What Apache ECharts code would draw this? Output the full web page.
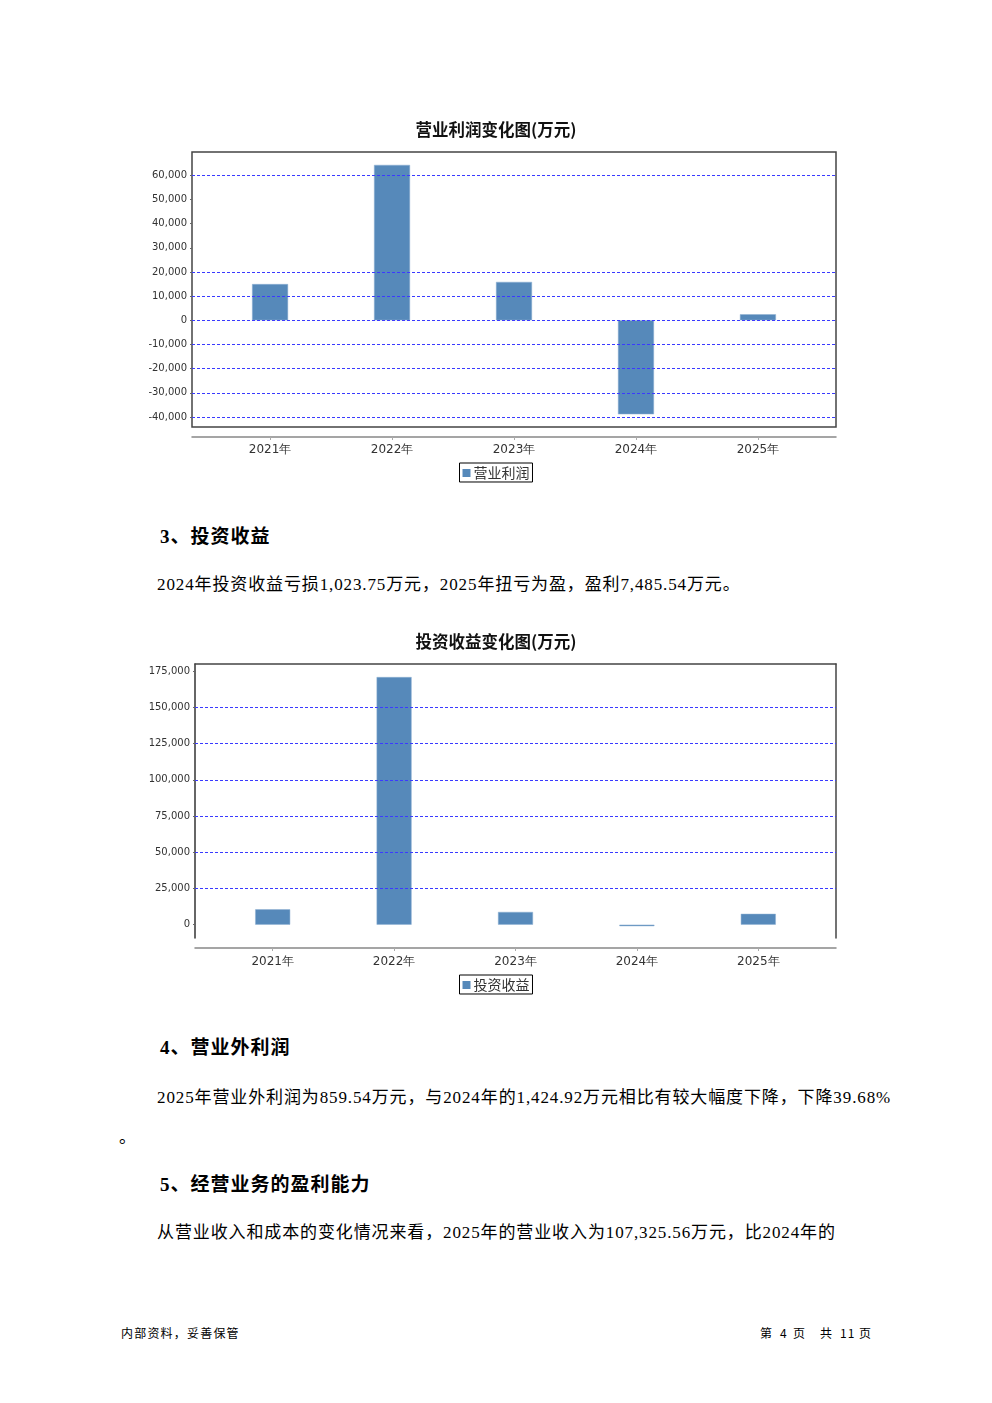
<!DOCTYPE html>
<html>
<head>
<meta charset="utf-8">
<script src="https://cdn.jsdelivr.net/npm/echarts@6/dist/echarts.min.js"></script>
<style>
  html, body { margin: 0; padding: 0; background: #fff; }
  body { width: 992px; height: 1403px; position: relative; overflow: hidden; }
  .chart { position: absolute; left: 0; width: 992px; }
  .t { position: absolute; white-space: nowrap; color: #000;
       font-family: "Liberation Serif", "Noto Sans CJK SC", serif; }
  .p { font-size: 17px; line-height: 20px; letter-spacing: 0.88px; }
  .h { font-size: 19px; line-height: 22px; font-weight: bold; letter-spacing: 1px; }
  .f { font-size: 12px; line-height: 14px; font-family: "Noto Sans CJK SC", sans-serif; letter-spacing: 1.2px; }
</style>
</head>
<body>
<div id="c1" class="chart" style="top:100px;height:400px;"></div>
<div id="c2" class="chart" style="top:620px;height:400px;"></div>

<div class="t h" style="left:160px;top:526px;">3、投资收益</div>
<div class="t p" style="left:157px;top:575px;">2024年投资收益亏损1,023.75万元，2025年扭亏为盈，盈利7,485.54万元。</div>

<div class="t h" style="left:160px;top:1037px;">4、营业外利润</div>
<div class="t p" style="left:157px;top:1088px;">2025年营业外利润为859.54万元，与2024年的1,424.92万元相比有较大幅度下降，下降39.68%</div>
<div class="t p" style="left:119px;top:1128px;">。</div>

<div class="t h" style="left:160px;top:1174px;">5、经营业务的盈利能力</div>
<div class="t p" style="left:157px;top:1223px;">从营业收入和成本的变化情况来看，2025年的营业收入为107,325.56万元，比2024年的</div>

<div class="t f" style="left:121px;top:1326px;">内部资料，妥善保管</div>
<div class="t f" style="left:760px;top:1326px;">第</div>
<div class="t f" style="left:780px;top:1326px;">4</div>
<div class="t f" style="left:793px;top:1326px;">页</div>
<div class="t f" style="left:820px;top:1326px;">共</div>
<div class="t f" style="left:840px;top:1326px;">11</div>
<div class="t f" style="left:859px;top:1326px;">页</div>

<script>
// ---- data ----
const categories = ['2021年', '2022年', '2023年', '2024年', '2025年'];

const profitTitle = '营业利润变化图(万元)';
const profitName = '营业利润';
const profitValues = [15000, 64300, 15900, -38900, 2500];
const profitTicks = [-40000, -30000, -20000, -10000, 0, 10000, 20000, 30000, 40000, 50000, 60000];
const profitGridLines = [60000, 20000, 10000, 0, -10000, -20000, -30000, -40000];

const investTitle = '投资收益变化图(万元)';
const investName = '投资收益';
const investValues = [10600, 171000, 8800, -1023.75, 7485.54];
const investTicks = [0, 25000, 50000, 75000, 100000, 125000, 150000, 175000];
const investGridLines = [150000, 125000, 100000, 75000, 50000, 25000];

// ---- chart builder ----
const catIdx = categories.map((c, i) => i);
const fmt = v => v.toLocaleString('en-US');

function build(el, cfg) {
  const chart = echarts.init(el, null, { renderer: 'canvas' });
  const yAxes = [{
    type: 'value', min: cfg.yMin, max: cfg.yMax, position: 'left',
    axisLine: { show: cfg.openBottom, onZero: false, lineStyle: { color: '#333', width: 1.5 } },
    axisTick: { show: true, length: 2, customValues: cfg.ticks, lineStyle: { color: '#666' } },
    axisLabel: { customValues: cfg.ticks, formatter: fmt, fontSize: 10, color: '#333',
                 fontFamily: 'DejaVu Sans', margin: 5 },
    splitLine: { show: false }
  }];
  const xAxes = [{
    type: 'value', min: -0.64, max: 4.64, position: 'bottom', offset: 10,
    axisLine: { show: true, onZero: false, lineStyle: { color: '#888', width: 1.5 } },
    axisTick: { show: true, length: 3, customValues: catIdx, lineStyle: { color: '#aaa' } },
    axisLabel: { customValues: catIdx, formatter: v => categories[Math.round(v)],
                 fontSize: 12, color: '#333', fontFamily: 'DejaVu Sans', margin: cfg.xLabelMargin },
    splitLine: { show: false }
  }];
  if (cfg.openBottom) {
    yAxes.push({
      type: 'value', min: cfg.yMin, max: cfg.yMax, position: 'right',
      axisLine: { show: true, onZero: false, lineStyle: { color: '#444', width: 1.5 } },
      axisTick: { show: false }, axisLabel: { show: false }, splitLine: { show: false }
    });
    xAxes.push({
      type: 'value', min: -0.64, max: 4.64, position: 'top',
      axisLine: { show: true, onZero: false, lineStyle: { color: '#444', width: 1.5 } },
      axisTick: { show: false }, axisLabel: { show: false }, splitLine: { show: false }
    });
  }
  chart.setOption({
    animation: false,
    title: {
      text: cfg.title, left: 'center', top: cfg.titleTop, padding: 0,
      textStyle: { fontSize: 16.5, fontWeight: 'bold', color: '#111', fontFamily: 'Noto Sans CJK SC' }
    },
    grid: {
      left: cfg.left, top: cfg.top, width: cfg.width, height: cfg.height,
      show: !cfg.openBottom, borderColor: '#444', borderWidth: 1.5, backgroundColor: 'transparent'
    },
    legend: {
      data: [cfg.name], left: 'center', top: cfg.legendTop,
      icon: 'rect', itemWidth: 8, itemHeight: 8, itemGap: 4,
      itemStyle: { color: '#5689ba', borderWidth: 0 },
      borderColor: '#000', borderWidth: 1, borderRadius: 0, padding: [3, 3, 2, 3],
      textStyle: { fontSize: 14, color: '#333', fontFamily: 'Noto Sans CJK SC', padding: [0, 0, 0, -2] }
    },
    xAxis: xAxes,
    yAxis: yAxes,
    series: [
      {
        type: 'line', data: [], z: 1, silent: true,
        markLine: {
          silent: true, symbol: 'none', animation: false,
          label: { show: false },
          lineStyle: { color: '#3a3aff', type: [3, 2], width: 1 },
          emphasis: { disabled: true },
          data: cfg.gridLines.map(v => ({ yAxis: v }))
        }
      },
      {
        name: cfg.name, type: 'bar', z: 3, barWidth: cfg.barWidth,
        itemStyle: { color: '#5689ba', borderColor: '#8fb0d3', borderWidth: 0.5 },
        data: cfg.values.map((v, i) => [i, v])
      }
    ]
  });
}

build(document.getElementById('c1'), {
  title: profitTitle, name: profitName, values: profitValues,
  ticks: profitTicks, gridLines: profitGridLines,
  yMin: -44150, yMax: 69640,
  left: 192, top: 52, width: 644, height: 275,
  titleTop: 21, legendTop: 363, barWidth: 36, openBottom: false, xLabelMargin: 7
});

build(document.getElementById('c2'), {
  title: investTitle, name: investName, values: investValues,
  ticks: investTicks, gridLines: investGridLines,
  yMin: -9200, yMax: 180000,
  left: 195, top: 44, width: 641, height: 274,
  titleTop: 13, legendTop: 355, barWidth: 35, openBottom: true, xLabelMargin: 8
});
</script>
</body>
</html>
